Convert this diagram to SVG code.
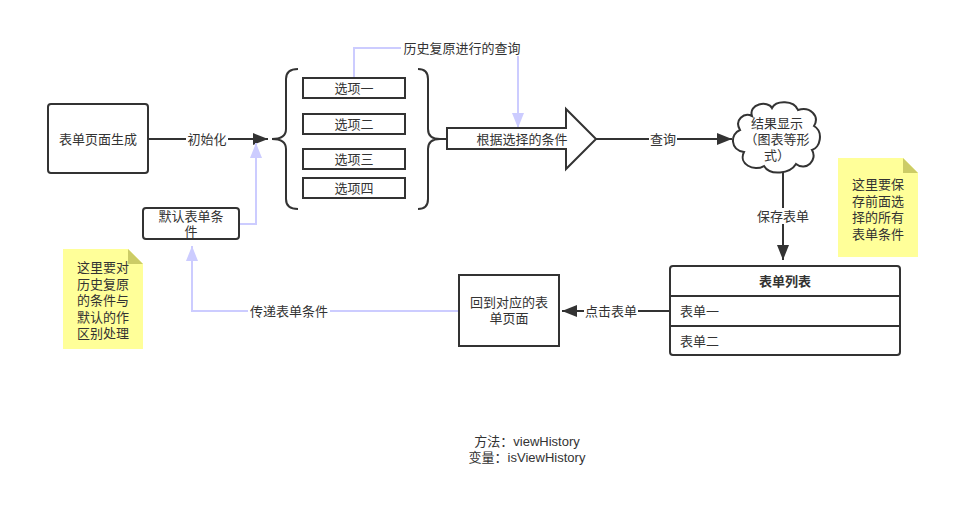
<svg xmlns="http://www.w3.org/2000/svg" width="980" height="532" viewBox="0 0 980 532">
<style>
text{font-family:"Liberation Sans","Noto Sans CJK SC",sans-serif;font-size:13px;fill:#333;text-anchor:middle}
.b{fill:#fff;stroke:#333;stroke-width:2}
.ln{fill:none;stroke:#333;stroke-width:2}
.pl{fill:none;stroke:#ccccff;stroke-width:2}
.lbl{fill:#fff;stroke:none}
.note{fill:#ffff99;stroke:none}
.fold{fill:#cccc66;stroke:none}
</style>
<defs>
<marker id="ad" markerWidth="16" markerHeight="12" refX="15" refY="6" orient="auto" markerUnits="userSpaceOnUse"><path d="M0,0 L15,6 L0,12 Z" fill="#333"/></marker>
<marker id="ap" markerWidth="16" markerHeight="12" refX="15" refY="6" orient="auto" markerUnits="userSpaceOnUse"><path d="M0,0 L15,6 L0,12 Z" fill="#ccccff"/></marker>
</defs>
<rect width="980" height="532" fill="#fff"/>
<g id="connectors">
<path class="ln" d="M148,139 H268" marker-end="url(#ad)"/>
<rect class="lbl" x="186" y="131" width="42" height="16"/>
<text x="207" y="144">初始化</text>
<path class="ln" d="M440,139 H448"/>
<path class="ln" d="M596,139 H732" marker-end="url(#ad)"/>
<rect class="lbl" x="649" y="131" width="28" height="16"/>
<text x="663" y="144">查询</text>
<path class="ln" d="M783,172 V260" marker-end="url(#ad)"/>
<rect class="lbl" x="755" y="208" width="56" height="16"/>
<text x="783" y="221">保存表单</text>
<path class="ln" d="M670,311 H562" marker-end="url(#ad)"/>
<rect class="lbl" x="584" y="303" width="54" height="16"/>
<text x="611" y="316">点击表单</text>
<path class="pl" d="M459,311 H192 V246" marker-end="url(#ap)"/>
<rect class="lbl" x="248" y="303" width="82" height="16"/>
<text x="289" y="316">传递表单条件</text>
<path class="pl" d="M239,224 H256 V143" marker-end="url(#ap)"/>
<path class="pl" d="M354,78 V48 H518 V128" marker-end="url(#ap)"/>
<rect class="lbl" x="401" y="40" width="122" height="16"/>
<text x="462" y="53">历史复原进行的查询</text>
</g>
<g id="n-form"><rect class="b" x="48" y="104" width="100" height="69" rx="3"/><text x="98" y="144">表单页面生成</text></g>
<g id="n-default"><rect class="b" x="143" y="208" width="96" height="31" rx="3"/><text x="191" y="221">默认表单条</text><text x="191" y="236">件</text></g>
<g id="n-brace-l"><path class="ln" d="M298,69 Q286,69 286,79 V129 Q286,139 272,139 Q286,139 286,149 V199 Q286,209 298,209"/></g>
<g id="n-opt1"><rect class="b" x="303" y="78" width="102" height="20"/><text x="354" y="93">选项一</text></g>
<g id="n-opt2"><rect class="b" x="303" y="114" width="102" height="20"/><text x="354" y="129">选项二</text></g>
<g id="n-opt3"><rect class="b" x="303" y="149" width="102" height="20"/><text x="354" y="164">选项三</text></g>
<g id="n-opt4"><rect class="b" x="303" y="178" width="102" height="20"/><text x="354" y="193">选项四</text></g>
<g id="n-brace-r"><path class="ln" d="M418,69 Q428,69 428,79 V129 Q428,139 440,139 Q428,139 428,149 V199 Q428,209 418,209"/></g>
<g id="n-bigarrow"><path class="b" d="M447,128 H566 V109 L596,139 L566,169 V149 H447 Z"/><text x="522" y="144">根据选择的条件</text></g>
<g id="n-cloud"><path class="b" d="M752,116 C748,104 768,100 772,108 C776,100 794,100 798,110 C810,106 820,116 814,126 C824,132 820,148 812,150 C818,160 806,172 796,164 C790,174 770,176 764,166 C754,172 738,164 744,152 C730,150 730,134 740,130 C734,120 744,112 752,116 Z"/><text x="777" y="128">结果显示</text><text x="777" y="144">（图表等形</text><text x="777" y="160">式）</text></g>
<g id="n-table"><rect class="b" x="670" y="266" width="230" height="89" rx="3"/><path class="ln" d="M670,296 H900 M670,326 H900"/><text x="785" y="286" font-weight="bold">表单列表</text><text x="680" y="316" style="text-anchor:start">表单一</text><text x="680" y="346" style="text-anchor:start">表单二</text></g>
<g id="n-back"><rect class="b" x="459" y="275" width="100" height="71"/><text x="509" y="307">回到对应的表</text><text x="509" y="323">单页面</text></g>
<g id="n-note1"><path class="note" d="M63,249 H128 L143,264 V349 H63 Z"/><path class="fold" d="M128,249 L143,264 H128 Z"/><text x="103" y="272">这里要对</text><text x="103" y="288.5">历史复原</text><text x="103" y="305">的条件与</text><text x="103" y="321.5">默认的作</text><text x="103" y="338">区别处理</text></g>
<g id="n-note2"><path class="note" d="M838,158 H903 L918,173 V257 H838 Z"/><path class="fold" d="M903,158 L918,173 H903 Z"/><text x="878" y="189">这里要保</text><text x="878" y="205.5">存前面选</text><text x="878" y="222">择的所有</text><text x="878" y="238.5">表单条件</text></g>
<g id="n-caption"><text x="527" y="446">方法：viewHistory</text><text x="527" y="462">变量：isViewHistory</text></g>
</svg>
